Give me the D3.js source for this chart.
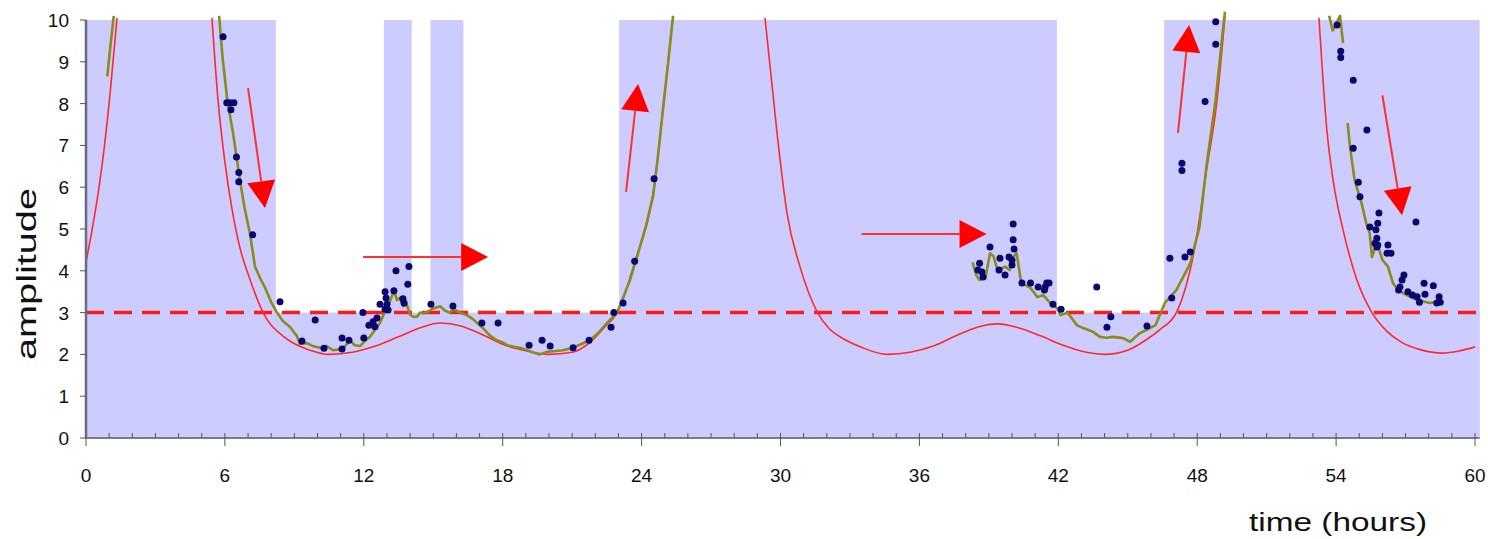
<!DOCTYPE html>
<html>
<head>
<meta charset="utf-8">
<script src="https://cdn.jsdelivr.net/npm/d3@7/dist/d3.min.js"></script>
<style>
  body { margin: 0; background: #fff; }
  svg { display: block; font-family: "Liberation Sans", Arial, sans-serif; }
</style>
</head>
<body>
<svg width="1488" height="539"></svg>
<script>
// tick labels
var xTicks = [0, 6, 12, 18, 24, 30, 36, 42, 48, 54, 60];
var yTicks = [0, 1, 2, 3, 4, 5, 6, 7, 8, 9, 10];

// shaded time bands (hours), plus floor band below threshold
var shadeBands = [[0, 8.2], [12.87, 14.07], [14.88, 16.3], [23.03, 41.94], [46.57, 60.2]];
var threshold = 3;

// model curve (red), one array per visible piece
var modelA = [[0, 4.2], [0.3, 5.1], [0.55, 5.95], [0.8, 7.0], [1.05, 8.3], [1.34, 10.05]];
var modelB = [[5.44, 10.05], [5.7, 8.1], [6.0, 6.6], [6.3, 5.5], [6.65, 4.55], [7.08, 3.8], [7.65, 3.0], [8.6, 2.4],
  [9.68, 2.1], [10.5, 2.0], [11.5, 2.05], [12.5, 2.2], [13.5, 2.42], [14.5, 2.65], [15.3, 2.75], [16.2, 2.68],
  [17.2, 2.45], [18.2, 2.2], [19.05, 2.08], [20.0, 2.0], [21.0, 2.05], [21.8, 2.3], [22.4, 2.65], [22.94, 3.0],
  [23.7, 4.2], [24.58, 6.17], [24.95, 8.0], [25.36, 10.1]];
var modelC = [[29.33, 10.05], [29.85, 7.3], [30.28, 5.38], [30.84, 4.1], [31.2, 3.5], [31.6, 3.0], [32.1, 2.62],
  [32.7, 2.38], [33.5, 2.17], [34.6, 2.0], [35.6, 2.05], [36.6, 2.2], [37.6, 2.45], [38.5, 2.65], [39.35, 2.73],
  [40.2, 2.65], [41.2, 2.45], [42.3, 2.2], [43.2, 2.05], [44.0, 2.0], [45.0, 2.1], [45.8, 2.35], [46.4, 2.6],
  [47.1, 3.0], [47.9, 4.57], [48.4, 6.4], [48.85, 8.05], [49.2, 10.1]];
var modelD = [[53.26, 10.05], [53.6, 7.37], [53.87, 6.17], [54.3, 4.98], [54.9, 3.78], [55.55, 3.0], [56.2, 2.55],
  [56.8, 2.3], [57.6, 2.12], [58.6, 2.03], [59.3, 2.08], [60.0, 2.18]];

// smoothed measurement (olive)
var smoothA = [[0.92, 8.65], [1.05, 9.35], [1.2, 10.1]];
var smoothB = [[5.75, 10.1], [5.9, 9.1], [6.1, 8.1], [6.35, 7.3], [6.65, 6.17], [6.85, 5.5], [7.08, 4.9], [7.3, 4.1],
  [7.5, 3.85], [7.73, 3.6], [8.0, 3.25], [8.25, 3.0], [8.5, 2.8], [8.8, 2.66], [9.1, 2.45], [9.24, 2.25], [9.55, 2.27],
  [9.8, 2.2], [10.1, 2.16], [10.4, 2.2], [10.67, 2.1], [10.97, 2.12], [11.2, 2.2], [11.4, 2.34], [11.6, 2.22],
  [11.84, 2.2], [12.05, 2.32], [12.27, 2.42], [12.5, 2.6], [12.7, 2.75], [12.85, 2.95], [13.0, 3.06], [13.15, 3.3],
  [13.26, 3.47], [13.35, 3.45], [13.43, 3.3], [13.55, 3.35], [13.7, 3.15], [13.85, 3.2], [14.0, 2.95], [14.13, 2.9],
  [14.3, 2.9], [14.43, 3.0], [14.6, 2.98], [14.86, 3.05], [15.0, 3.1], [15.3, 3.15], [15.5, 3.05], [15.7, 3.0],
  [15.9, 3.08], [16.15, 3.0], [16.45, 2.94], [16.7, 2.85], [16.9, 2.75], [17.2, 2.6], [17.45, 2.45], [17.7, 2.35],
  [17.95, 2.3], [18.2, 2.22], [18.5, 2.18], [18.8, 2.15], [19.05, 2.1], [19.3, 2.05], [19.6, 2.0], [19.9, 2.06],
  [20.3, 2.08], [20.6, 2.1], [21.0, 2.15], [21.4, 2.25], [21.77, 2.34], [22.1, 2.5], [22.5, 2.75], [22.94, 3.0],
  [23.2, 3.35], [23.5, 3.78], [23.93, 4.57], [24.2, 5.1], [24.5, 5.8], [24.7, 6.7], [24.95, 8.0], [25.15, 9.0], [25.36, 10.1]];
var smoothC = [[38.3, 4.2], [38.45, 3.9], [38.6, 3.78], [38.85, 3.83], [39.05, 4.42], [39.2, 4.35], [39.4, 3.97],
  [39.55, 4.05], [39.7, 4.1], [39.9, 4.02], [40.05, 4.33], [40.2, 4.42], [40.4, 3.7], [40.6, 3.65], [40.8, 3.59],
  [41.1, 3.37], [41.35, 3.42], [41.65, 3.23], [41.95, 3.11], [42.1, 2.94], [42.4, 3.0], [42.8, 2.7], [43.07, 2.63],
  [43.5, 2.54], [43.8, 2.42], [44.1, 2.4], [44.36, 2.42], [44.8, 2.39], [45.1, 2.3], [45.5, 2.5], [45.96, 2.63],
  [46.2, 2.7], [46.6, 3.23], [47.1, 3.54], [47.7, 4.18], [48.1, 5.05], [48.4, 6.5], [48.8, 8.1], [49.1, 9.7], [49.2, 10.2]];
var smoothD = [[53.7, 10.1], [53.85, 9.75], [53.95, 9.83], [54.08, 10.0], [54.17, 10.1], [54.3, 9.45]];
var smoothE = [[54.5, 7.53], [54.6, 6.96], [54.8, 6.17], [55.1, 5.62], [55.3, 5.14], [55.45, 4.9], [55.55, 4.33],
  [55.65, 4.5], [55.8, 4.62], [56.0, 4.26], [56.24, 4.1], [56.46, 3.7], [56.68, 3.54], [57.05, 3.42], [57.5, 3.3],
  [58.05, 3.23], [58.35, 3.25]];

// raw measurements (dots)
var samples = [[5.92, 9.6], [6.08, 8.02], [6.22, 8.02], [6.39, 8.02], [6.26, 7.85], [6.5, 6.72], [6.6, 6.35], [6.6, 6.13],
  [7.2, 4.86], [8.38, 3.26], [9.9, 2.82], [9.33, 2.32], [10.28, 2.15], [11.06, 2.39], [11.06, 2.13], [11.36, 2.34],
  [11.96, 3.0], [12.0, 2.39], [12.22, 2.7], [12.4, 2.78], [12.48, 2.66], [12.57, 2.87], [12.7, 3.2], [12.92, 3.5],
  [12.96, 3.35], [13.0, 3.2], [13.05, 3.06], [12.92, 3.08], [13.3, 3.52], [13.39, 4.0], [13.95, 4.1], [13.9, 3.68],
  [13.69, 3.33], [13.74, 3.23], [14.9, 3.2], [15.85, 3.16], [17.1, 2.75], [17.8, 2.75], [19.14, 2.22], [19.7, 2.34],
  [20.05, 2.2], [21.04, 2.16], [21.73, 2.34], [22.68, 2.65], [22.8, 3.0], [23.2, 3.23], [23.7, 4.23], [24.54, 6.2],
  [38.6, 4.18], [38.53, 4.02], [38.7, 3.97], [38.75, 3.85], [39.05, 4.57], [39.48, 4.3], [39.44, 4.02], [39.7, 3.9],
  [39.87, 4.33], [40.0, 4.26], [40.0, 4.14], [40.05, 5.12], [40.05, 4.74], [40.09, 4.52], [40.43, 3.71], [40.8, 3.71],
  [41.13, 3.61], [41.4, 3.54], [41.5, 3.71], [41.6, 3.71], [41.43, 3.61], [41.77, 3.2], [42.12, 3.08], [43.66, 3.61],
  [44.27, 2.9], [44.1, 2.65], [45.83, 2.68], [46.9, 3.35], [46.82, 4.3], [47.47, 4.33], [47.7, 4.45], [47.34, 6.57],
  [47.34, 6.4], [48.34, 8.05], [48.8, 9.42], [48.8, 9.96],
  [54.04, 9.88], [54.2, 9.25], [54.2, 9.1], [54.74, 8.56], [55.33, 7.37], [54.74, 6.93], [54.96, 6.12], [55.03, 5.77],
  [55.85, 5.38], [55.8, 5.14], [55.46, 5.05], [55.72, 4.98], [55.76, 4.78], [55.68, 4.66], [55.8, 4.62], [55.76, 4.57],
  [56.24, 4.62], [56.2, 4.42], [56.37, 4.42], [57.45, 5.17], [56.93, 3.9], [56.85, 3.78], [56.76, 3.61], [56.7, 3.54],
  [57.1, 3.5], [57.3, 3.42], [57.5, 3.38], [57.6, 3.25], [57.8, 3.7], [57.84, 3.44], [58.2, 3.64], [58.35, 3.23],
  [58.45, 3.38], [58.5, 3.25]];

// annotation arrows: [from, to] in (hours, amplitude)
var arrows = [[[7.0, 8.37], [7.73, 5.5]], [[11.97, 4.33], [17.37, 4.33]], [[23.33, 5.89], [23.85, 8.47]],
  [[33.5, 4.88], [38.9, 4.88]], [[47.17, 7.3], [47.65, 9.88]], [[56.0, 8.2], [56.85, 5.33]]];

var svg = d3.select("svg");
var x = d3.scaleLinear().domain([0, 60]).range([86, 1475]);
var y = d3.scaleLinear().domain([0, 10]).range([438, 20]);

// background shading
var shade = svg.append("g").attr("fill", "#ccccff");
shade.append("rect")
    .attr("x", x(0)).attr("y", y(threshold))
    .attr("width", x(60.2) - x(0)).attr("height", y(0) - y(threshold));
shade.selectAll("rect.band").data(shadeBands).enter().append("rect")
    .attr("class", "band")
    .attr("x", function (d) { return x(d[0]); })
    .attr("y", y(10))
    .attr("width", function (d) { return x(d[1]) - x(d[0]); })
    .attr("height", y(0) - y(10));

// threshold line
svg.append("line")
    .attr("x1", x(0)).attr("x2", x(60.2))
    .attr("y1", y(threshold)).attr("y2", y(threshold))
    .attr("stroke", "#ff1a1a").attr("stroke-width", 3.5)
    .attr("stroke-dasharray", "18,10");

var line = d3.line()
    .x(function (d) { return x(d[0]); })
    .y(function (d) { return y(d[1]); })
    .curve(d3.curveMonotoneX);

svg.append("g").selectAll("path").data([modelA, modelB, modelC, modelD]).enter().append("path")
    .attr("d", line)
    .attr("fill", "none").attr("stroke", "#ff2a2a").attr("stroke-width", 1.6);

var lineRaw = d3.line()
    .x(function (d) { return x(d[0]); })
    .y(function (d) { return y(d[1]); });
svg.append("g").selectAll("path").data([smoothA, smoothB, smoothC, smoothD, smoothE]).enter().append("path")
    .attr("d", lineRaw)
    .attr("fill", "none").attr("stroke", "#8b8b1c").attr("stroke-width", 2.6)
    .attr("stroke-linejoin", "round");

svg.append("g").selectAll("circle").data(samples).enter().append("circle")
    .attr("cx", function (d) { return x(d[0]); })
    .attr("cy", function (d) { return y(d[1]); })
    .attr("r", 3.5)
    .attr("fill", "#08086e");

// arrows
var ag = svg.append("g");
arrows.forEach(function (a) {
    var x0 = x(a[0][0]), y0 = y(a[0][1]), x1 = x(a[1][0]), y1 = y(a[1][1]);
    var len = Math.sqrt((x1 - x0) * (x1 - x0) + (y1 - y0) * (y1 - y0));
    var ux = (x1 - x0) / len, uy = (y1 - y0) / len;
    var hl = 27, hw = 14;
    var bx = x1 - ux * hl, by = y1 - uy * hl;
    ag.append("line")
        .attr("x1", x0).attr("y1", y0).attr("x2", bx).attr("y2", by)
        .attr("stroke", "#ff3030").attr("stroke-width", 2);
    ag.append("path")
        .attr("d", "M" + x1 + "," + y1 +
            "L" + (bx - uy * hw) + "," + (by + ux * hw) +
            "L" + (bx + uy * hw) + "," + (by - ux * hw) + "Z")
        .attr("fill", "#ff0000");
});

// axes
var xAxis = svg.append("g").attr("transform", "translate(0," + y(0) + ")");
xAxis.append("line").attr("x1", x(0)).attr("x2", x(60.2)).attr("stroke", "#7a7a8a").attr("stroke-width", 2);
xAxis.selectAll("line.minor").data(d3.range(0, 61)).enter().append("line")
    .attr("class", "minor")
    .attr("x1", function (d) { return x(d); }).attr("x2", function (d) { return x(d); })
    .attr("y1", -5).attr("y2", function (d) { return d % 6 === 0 ? 8 : 0; })
    .attr("stroke", "#555").attr("stroke-width", 1);
xAxis.selectAll("text").data(xTicks).enter().append("text")
    .attr("x", function (d) { return x(d); })
    .attr("y", 44)
    .attr("text-anchor", "middle")
    .attr("font-size", 19).attr("fill", "#111")
    .text(function (d) { return d; });

var yAxis = svg.append("g");
yAxis.append("line").attr("x1", x(0)).attr("x2", x(0)).attr("y1", y(0)).attr("y2", y(10))
    .attr("stroke", "#6a6a80").attr("stroke-width", 2.5);
yAxis.selectAll("line.tick").data(yTicks).enter().append("line")
    .attr("class", "tick")
    .attr("x1", x(0) - 6).attr("x2", x(0))
    .attr("y1", function (d) { return y(d); }).attr("y2", function (d) { return y(d); })
    .attr("stroke", "#555");
yAxis.selectAll("text").data(yTicks).enter().append("text")
    .attr("x", 69)
    .attr("y", function (d) { return y(d) + 7; })
    .attr("text-anchor", "end")
    .attr("font-size", 19).attr("fill", "#111")
    .text(function (d) { return d; });

svg.append("text")
    .attr("transform", "translate(36,274) rotate(-90)")
    .attr("text-anchor", "middle")
    .attr("font-size", 27).attr("fill", "#111")
    .attr("textLength", 172).attr("lengthAdjust", "spacingAndGlyphs")
    .text("amplitude");

svg.append("text")
    .attr("x", 1249).attr("y", 531)
    .attr("font-size", 26).attr("fill", "#111")
    .attr("textLength", 178).attr("lengthAdjust", "spacingAndGlyphs")
    .text("time (hours)");
</script>
</body>
</html>
